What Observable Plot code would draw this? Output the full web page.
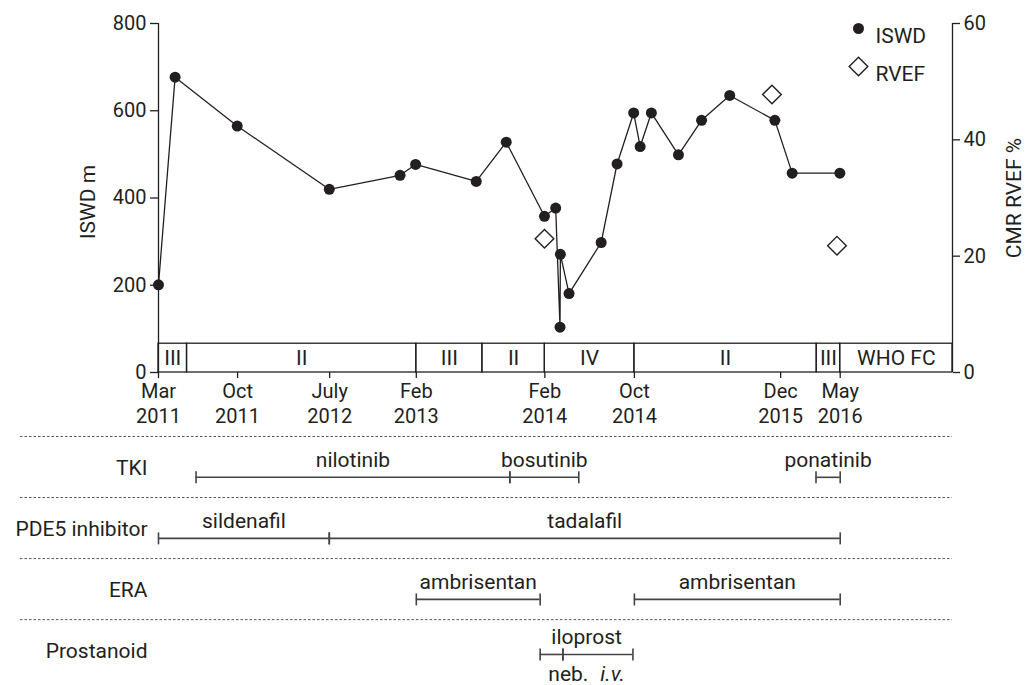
<!DOCTYPE html>
<html><head><meta charset="utf-8">
<script src="https://cdn.jsdelivr.net/npm/d3@7"></script>
<script src="https://cdn.jsdelivr.net/npm/@observablehq/plot@0.6"></script>
<style>
body{margin:0;background:#fff;}
#chart{width:1031px;}
#chart svg{display:block;}
</style></head><body><div id="chart"></div>
<script>
const FONT = "Roboto, sans-serif";
const INK = "#231f20";
const LINE = "#444";

// ISWD measurements (m)
const iswdDates = ["2011-03-01","2011-04-16","2011-10-05","2012-06-16","2012-12-29","2013-02-10","2013-07-28","2013-10-19","2014-02-02","2014-03-05","2014-03-17","2014-03-18","2014-04-11","2014-07-09","2014-08-22","2014-10-07","2014-10-25","2014-11-25","2015-02-08","2015-04-13","2015-06-30","2015-11-02","2015-12-20","2016-04-30"];
const iswdValues = [201, 677, 565, 420, 452, 477, 438, 528, 358, 377, 104, 271, 181, 298, 478, 595, 518, 595, 499, 578, 635, 578, 457, 457];

// CMR RVEF (%)
const rvefDates = ["2014-02-02","2015-10-25","2016-04-22"];
const rvefValues = [23, 47.8, 21.8];

// WHO functional class periods
const whoStarts = ["2011-03-01","2011-05-19","2013-02-12","2013-08-14","2014-02-03","2014-10-09","2016-02-26","2016-05-01"];
const whoClasses = ["III","II","III","II","IV","II","III","WHO FC"];
const axisEnd = "2017-03-08";

// axis ticks
const tickDates = ["2011-03-01","2011-10-06","2012-06-17","2013-02-12","2014-02-03","2014-10-09","2015-11-18","2016-05-01"];
const tickLabels = ["Mar\n2011","Oct\n2011","July\n2012","Feb\n2013","Feb\n2014","Oct\n2014","Dec\n2015","May\n2016"];
const leftTicks = [0,200,400,600,800];
const rightTicks = [0,20,40,60];

// treatments
const drugClasses = ["TKI","PDE5 inhibitor","ERA","Prostanoid"];
const drugClass = ["TKI","TKI","TKI","PDE5 inhibitor","PDE5 inhibitor","ERA","ERA","Prostanoid","Prostanoid"];
const drugNames = ["nilotinib","bosutinib","ponatinib","sildenafil","tadalafil","ambrisentan","ambrisentan","iloprost","iloprost"];
const drugRoutes = ["","","","","","","","neb.","i.v."];
const drugStart = ["2011-06-13","2013-10-29","2016-02-24","2011-03-01","2012-06-16","2013-02-12","2014-10-09","2014-01-21","2014-03-25"];
const drugEnd = ["2013-10-29","2014-05-08","2016-05-01","2012-06-16","2016-05-01","2014-01-21","2016-05-01","2014-03-25","2014-10-05"];

const parse = d3.utcParse("%Y-%m-%d");
const mid = (a, b) => new Date((+a + +b) / 2);
const RV = 800 / 60;

const iswd = iswdDates.map((d, i) => ({date: parse(d), v: iswdValues[i]}));
const rvef = rvefDates.map((d, i) => ({date: parse(d), v: rvefValues[i] * RV}));
const bands = whoStarts.map((d, i) => ({start: parse(d), end: parse(i < whoStarts.length - 1 ? whoStarts[i + 1] : axisEnd), label: whoClasses[i]}));
const xDomain = [parse(whoStarts[0]), parse(axisEnd)];
const tickMap = new Map(tickDates.map((d, i) => [+parse(d), tickLabels[i]]));

const W = 1031, ML = 158, MR = 79, BAND = 66;
const common = {fontFamily: FONT, fontSize: "20px", color: INK, background: "#fff", overflow: "visible"};

const topChart = Plot.plot({
  width: W, height: 435, marginTop: 23, marginBottom: 63, marginLeft: ML, marginRight: MR,
  style: common,
  x: {type: "utc", domain: xDomain},
  y: {domain: [0, 800]},
  marks: [
    Plot.rect(bands, {x1: "start", x2: "end", y1: 0, y2: BAND, stroke: INK, strokeWidth: 1.3, fill: "none"}),
    Plot.text(bands, {x: d => mid(d.start, d.end), y: BAND / 2, text: "label", fill: INK, fontSize: 21}),
    Plot.ruleX(xDomain, {y1: 0, y2: 800, stroke: INK, strokeWidth: 1.3}),
    Plot.axisX({ticks: tickDates.map(parse), tickFormat: d => tickMap.get(+d), tickSize: 6, tickPadding: 2, lineHeight: 1.25, label: null, stroke: INK, fill: INK, strokeWidth: 1.3}),
    Plot.axisY({ticks: leftTicks, tickSize: 8, tickPadding: 4, label: null, stroke: INK, fill: INK, strokeWidth: 1.3}),
    Plot.axisY({anchor: "right", ticks: rightTicks.map(v => v * RV), tickFormat: d => String(Math.round(d / RV)), tickSize: 7, tickPadding: 4, label: null, stroke: INK, fill: INK, strokeWidth: 1.3}),
    Plot.line(iswd, {x: "date", y: "v", stroke: INK, strokeWidth: 1.3}),
    Plot.dot(iswd, {x: "date", y: "v", r: 5.5, fill: INK}),
    Plot.dot(rvef, {x: "date", y: "v", symbol: "diamond2", r: 8.4, stroke: INK, strokeWidth: 1.4, fill: "none"}),
    Plot.dot(["ISWD"], {frameAnchor: "top-right", dx: -94, dy: 5, r: 5.5, fill: INK}),
    Plot.text(["ISWD"], {frameAnchor: "top-right", dx: -77, dy: 5, textAnchor: "start", text: d => d, fill: INK, fontSize: 21}),
    Plot.dot(["RVEF"], {frameAnchor: "top-right", dx: -94, dy: 43, symbol: "diamond2", r: 8.4, stroke: INK, strokeWidth: 1.4, fill: "none"}),
    Plot.text(["RVEF"], {frameAnchor: "top-right", dx: -77, dy: 43, textAnchor: "start", text: d => d, fill: INK, fontSize: 21}),
    Plot.text(["ISWD m"], {frameAnchor: "left", textAnchor: "middle", rotate: -90, dx: -70, dy: 4, text: d => d, fill: INK, fontSize: 21}),
    Plot.text(["CMR RVEF %"], {frameAnchor: "right", textAnchor: "middle", rotate: -90, dx: 62, dy: 0, text: d => d, fill: INK, fontSize: 21})
  ]
});

// treatment timeline
const segs = drugNames.map((n, i) => ({cls: drugClass[i], lane: drugClasses.indexOf(drugClass[i]), name: n, route: drugRoutes[i], start: parse(drugStart[i]), end: parse(drugEnd[i])}));
const labels = [];
for (const s of segs) {
  const last = labels[labels.length - 1];
  if (last && last.cls === s.cls && last.name === s.name && +last.end === +s.start) { last.end = s.end; last.routes.push(s.route); }
  else labels.push({cls: s.cls, lane: s.lane, name: s.name, start: s.start, end: s.end, routes: [s.route]});
}
const ends = segs.flatMap(s => [{x: s.start, lane: s.lane, cls: s.cls}, {x: s.end, lane: s.lane, cls: s.cls}]);
const vbar = {draw(ctx, size) { const h = Math.sqrt(size / Math.PI); ctx.moveTo(0, -h); ctx.lineTo(0, h); }};
const SEP = 0.669;

function treatmentMarks(filter, dy) {
  const S = segs.filter(filter), E = ends.filter(filter), L = labels.filter(filter);
  const R = L.filter(d => d.routes.some(r => r));
  return [
    Plot.ruleY(S, {x1: "start", x2: "end", y: "lane", dy, stroke: LINE, strokeWidth: 1.6}),
    Plot.dot(E, {x: "x", y: "lane", dy, symbol: vbar, r: 6, stroke: LINE, strokeWidth: 1.6, fill: "none"}),
    Plot.text(L, {x: d => mid(d.start, d.end), y: "lane", dy: dy - 17, text: "name", fill: INK}),
    Plot.text(R, {x: d => mid(d.start, d.end), y: "lane", dy: dy + 20, text: d => d.routes.join(" "), fill: INK})
  ];
}

const bottomChart = Plot.plot({
  width: W, height: 250, marginTop: 0, marginBottom: 0, marginLeft: ML, marginRight: MR,
  style: {...common, fontSize: "21px"},
  x: {type: "utc", domain: xDomain, axis: null},
  y: {domain: [-0.685, 3.41], reverse: true, axis: null},
  marks: [
    Plot.ruleY(drugClasses, {y: (d, i) => i - SEP, stroke: "#555", strokeWidth: 1, strokeDasharray: "2.5,2", insetLeft: -(ML - 20)}),
    Plot.text(drugClasses, {y: (d, i) => i - 0.15, frameAnchor: "left", dx: -11, textAnchor: "end", text: d => d, fill: INK}),
    ...treatmentMarks(d => d.cls !== "Prostanoid", 0),
    ...treatmentMarks(d => d.cls === "Prostanoid", -6)
  ]
});

// italicise the route abbreviation after the first one
const routeTexts = new Set(labels.filter(d => d.routes.some(r => r)).map(d => d.routes.join(" ")));
d3.select(bottomChart).selectAll("text").filter(function () { return routeTexts.has(this.textContent); }).each(function () {
  const parts = this.textContent.split(" ");
  const t = d3.select(this);
  t.text(parts[0]);
  parts.slice(1).forEach(p => t.append("tspan").attr("dx", 12).attr("font-style", "italic").text(p));
});

document.getElementById("chart").append(topChart, bottomChart);
</script>
</body></html>
